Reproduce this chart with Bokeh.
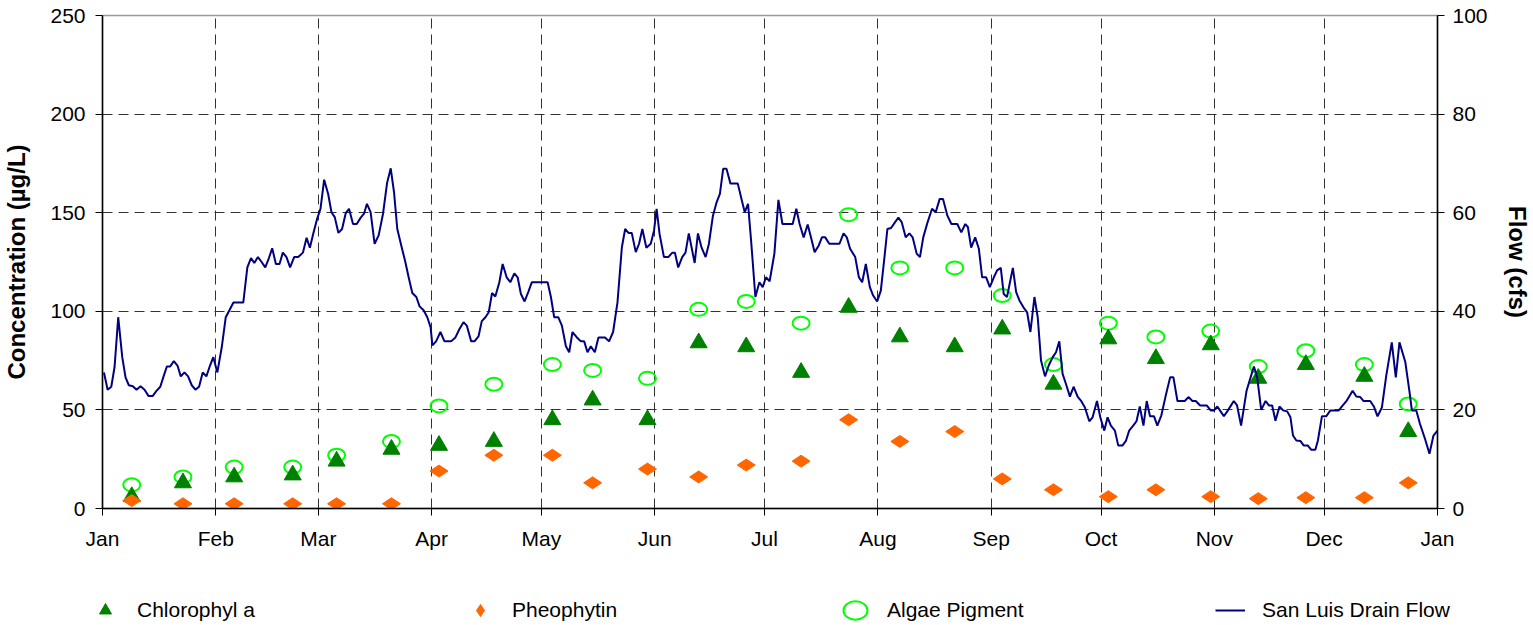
import math
from bokeh.plotting import figure
from bokeh.layouts import column
from bokeh.models import Range1d, LinearAxis, FixedTicker, Legend, LegendItem
from bokeh.embed import file_html
from bokeh.resources import INLINE

FONT = "Liberation Sans"

# ---------------- data ----------------
month_ticks = [0, 31, 59, 90, 120, 151, 181, 212, 243, 273, 304, 334, 365]
month_labels = ["Jan", "Feb", "Mar", "Apr", "May", "Jun", "Jul", "Aug",
                "Sep", "Oct", "Nov", "Dec", "Jan"]
conc_ticks = [0, 50, 100, 150, 200, 250]
flow_ticks = [0, 20, 40, 60, 80, 100]

sample_day = [8, 22, 36, 52, 64, 79, 92, 107, 123, 134, 149, 163, 176,
              191, 204, 218, 233, 246, 260, 275, 288, 303, 316, 329, 345, 357]
chlorophyll_a = [6, 13, 16, 17, 24, 30, 32, 34, 45, 55, 45, 84, 82,
                 69, 102, 87, 82, 91, 63, 86, 76, 83, 66, 73, 67, 39]
pheophytin = [4, 2.4, 2.4, 2.4, 2.4, 2.4, 19, 27, 27, 13, 20, 16, 22,
              24, 45, 34, 39, 15, 9.5, 6, 9.5, 6, 5, 5.5, 5.5, 13]
algae_pigment = [12, 16, 21, 21, 27, 34, 52, 63, 73, 70, 66, 101, 105,
                 94, 149, 122, 122, 108, 73, 94, 87, 90, 72, 80, 73, 53]

flow_day = [0.4, 1.4, 2.4, 3.3, 4.3, 5.4, 6.3, 7.2, 8.3, 9.3, 10.4, 11.5, 12.6, 13.7, 14.7,
            15.8, 16.7, 17.6, 18.5, 19.5, 20.5, 21.4, 22.4, 23.4, 24.4, 25.4, 26.4, 27.4, 28.4,
            29.4, 30.3, 31.4, 32.6, 33.7, 34.7, 35.8, 38.5, 39.6, 40.6, 41.5, 42.5, 43.5, 44.5,
            45.5, 46.4, 47.4, 48.4, 49.3, 50.3, 51.3, 52.4, 53.5, 54.8, 55.8, 56.7, 57.6, 58.7,
            59.6, 60.6, 61.7, 62.6, 63.5, 64.5, 65.5, 66.5, 67.4, 68.5, 69.5, 70.6, 71.5, 72.3,
            73.3, 74.4, 75.5, 76.7, 77.8, 78.8, 79.7, 80.6, 81.7, 82.8, 83.7, 84.7, 85.8, 86.7,
            87.8, 88.8, 89.7, 90.2, 91.2, 92.4, 93.5, 95.3, 96.5, 97.6, 98.7, 99.6, 100.8, 101.7,
            102.8, 103.7, 104.7, 105.6, 106.5, 107.4, 108.5, 109.4, 110.5, 111.5, 112.6, 113.5,
            114.4, 115.4, 116.4, 117.4, 121.7, 122.6, 123.5, 124.6, 125.6, 126.7, 127.6, 128.5,
            129.7, 130.8, 131.7, 132.6, 133.5, 134.6, 135.6, 137.4, 138.5, 139.6, 140.8, 142.0,
            142.9, 143.8, 144.7, 145.8, 146.7, 147.6, 148.7, 149.9, 150.8, 151.5, 152.3, 153.5,
            154.7, 155.8, 156.5, 157.4, 158.5, 159.4, 160.3, 161.9, 162.8, 163.8, 164.9, 165.8,
            166.9, 167.9, 168.8, 169.7, 170.6, 171.7, 173.7, 174.7, 175.6, 176.5, 177.4, 178.5,
            179.6, 180.5, 181.4, 182.4, 183.7, 184.8, 185.9, 188.7, 189.7, 190.6, 191.7, 192.8,
            193.7, 194.7, 195.8, 196.7, 197.6, 198.7, 201.5, 202.6, 203.5, 204.4, 205.8, 206.8,
            207.7, 208.7, 209.8, 210.7, 211.8, 212.8, 213.6, 214.6, 215.6, 216.7, 217.6, 218.5,
            219.6, 220.6, 221.5, 222.6, 223.5, 224.4, 225.6, 226.8, 227.8, 228.9, 229.8, 231.0,
            232.1, 233.7, 234.8, 235.9, 236.6, 237.5, 238.6, 239.6, 240.5, 241.6, 242.6, 243.7,
            244.6, 245.6, 246.4, 247.3, 248.9, 249.8, 250.7, 251.8, 252.8, 253.7, 254.8, 255.7,
            256.6, 257.7, 258.7, 259.8, 260.7, 261.6, 262.5, 263.4, 264.5, 265.5, 266.6, 267.5,
            268.6, 269.8, 270.7, 271.9, 272.8, 273.9, 274.8, 275.7, 276.8, 277.7, 278.9, 279.8,
            280.7, 281.8, 282.7, 283.6, 284.6, 285.5, 286.4, 287.5, 288.4, 289.5, 290.7, 291.9,
            292.8, 293.9, 295.9, 296.9, 298.0, 298.9, 300.1, 301.9, 303.0, 303.9, 304.8, 305.7,
            306.6, 307.7, 309.3, 310.2, 311.3, 312.8, 313.9, 314.8, 315.7, 316.8, 318.0, 318.9,
            319.8, 320.7, 321.8, 322.8, 323.9, 324.8, 325.5, 326.4, 327.5, 328.4, 329.5, 330.5,
            331.6, 332.3, 333.4, 334.6, 335.7, 338.0, 339.1, 340.2, 341.8, 342.8, 343.9, 344.8,
            346.6, 347.6, 348.6, 349.8, 351.0, 352.5, 353.6, 354.6, 356.2, 357.3, 358.0, 359.2,
            360.2, 361.6, 362.8, 363.9, 365.0]
flow_cfs = [27.6, 24.1, 24.7, 28.7, 38.8, 30.7, 26.6, 25.0, 24.8, 24.1, 24.8, 24.1, 22.8, 22.8, 23.8,
            24.7, 26.8, 28.8, 28.8, 29.9, 29.0, 26.8, 27.6, 26.8, 25.0, 24.1, 24.7, 27.6, 26.8,
            29.0, 30.7, 27.6, 32.7, 38.8, 40.2, 41.8, 41.8, 48.9, 50.8, 49.8, 51.0, 50.0, 48.9,
            50.8, 52.8, 49.6, 49.6, 51.9, 51.0, 48.9, 51.0, 51.0, 51.9, 54.9, 52.9, 55.7, 58.8,
            60.8, 66.7, 63.8, 60.1, 59.1, 55.9, 56.7, 59.9, 60.8, 57.7, 57.7, 59.0, 59.8, 61.8,
            60.1, 53.7, 55.4, 59.8, 66.0, 69.0, 64.2, 56.7, 53.3, 50.0, 46.9, 43.7, 42.9, 41.0,
            40.2, 38.8, 36.8, 33.1, 33.9, 35.8, 33.9, 33.9, 34.7, 36.4, 37.8, 37.1, 33.9, 33.9,
            34.9, 38.0, 38.8, 39.8, 43.7, 43.0, 45.9, 49.6, 46.9, 45.9, 47.7, 46.9,
            43.5, 42.0, 43.9, 45.9, 45.9, 42.9, 38.8, 38.8, 37.1, 32.9, 31.7, 35.8,
            34.7, 33.9, 33.9, 31.7, 32.9, 31.7, 34.7, 34.7, 33.9, 35.8, 41.8, 53.0,
            56.7, 55.9, 55.9, 52.0, 53.7, 56.7, 52.9, 53.7, 56.4, 60.8, 55.7, 51.0,
            51.0, 51.9, 51.9, 48.9, 51.0, 51.9, 55.8, 49.8, 55.8, 52.9, 51.0, 53.7,
            59.4, 62.1, 63.8, 68.9, 68.9, 65.9, 65.9, 62.8, 60.1, 61.8, 53.7, 42.9,
            45.9, 44.9, 46.9, 46.1, 51.7, 62.6, 57.7, 57.7, 60.8, 57.7, 55.0, 57.6,
            55.0, 52.0, 53.3, 55.0, 55.0, 53.7, 53.7, 55.8, 55.0, 52.7, 51.0, 46.9,
            45.9, 49.6, 44.9, 43.2, 42.0, 44.2, 49.6, 56.7, 56.9, 58.1, 59.0, 58.1,
            55.0, 55.8, 55.0, 51.7, 51.0, 55.0, 58.1, 60.8, 60.1, 62.8, 62.8, 59.4,
            57.7, 57.7, 56.0, 57.7, 57.1, 52.9, 55.0, 52.7, 46.9, 46.9, 44.9, 46.9,
            48.3, 48.8, 43.5, 42.9, 48.8, 43.9, 42.2, 40.8, 39.8, 35.8, 42.9, 38.8,
            30.0, 26.8, 29.0, 30.7, 31.7, 33.9, 27.3, 25.3, 22.7, 24.7, 22.7, 21.9,
            20.5, 17.7, 18.5, 21.8, 18.5, 15.8, 18.5, 16.8, 15.8, 12.8, 12.8, 13.7,
            15.8, 16.8, 17.7, 20.7, 16.8, 21.8, 18.7, 18.7, 16.8, 18.9, 22.9, 26.6,
            26.6, 21.8, 21.8, 22.6, 21.8, 21.8, 20.9, 20.9, 19.9, 19.9, 20.7, 19.7,
            18.7, 19.9, 21.8, 20.9, 16.8, 23.9, 26.6, 28.8, 26.6, 20.0, 21.8, 20.9,
            20.9, 17.8, 20.7, 19.9, 19.7, 18.5, 14.8, 13.8, 13.7, 12.8, 12.8, 11.9,
            11.9, 13.8, 18.7, 18.7, 19.9, 19.9, 20.9, 21.9, 23.9, 22.7, 22.6, 21.8,
            21.8, 20.7, 18.7, 20.5, 27.0, 33.7, 26.6, 33.7, 29.7, 23.9, 19.9, 19.9,
            17.2, 14.1, 11.1, 14.8, 15.8]

legend_labels = ["Chlorophyl a", "Pheophytin", "Algae Pigment", "San Luis Drain Flow"]

# styles
ALG = dict(fill_color=None, line_color="#00FF00", line_width=2)
CHL = dict(marker="triangle", size=17, fill_color="#008000", line_color="#008000")
PHE = dict(marker="diamond", angle=math.pi / 2, size=18,
           fill_color="#FF6600", line_color="#FF6600")
FLO = dict(line_color="#000080", line_width=2)


def draw_series(fig, flow_range=None):
    kw = {} if flow_range is None else {"y_range_name": flow_range}
    r_alg = fig.ellipse(x=sample_day, y=algae_pigment, width=17, height=13,
                        width_units="screen", height_units="screen", **ALG)
    r_chl = fig.scatter(x=sample_day, y=chlorophyll_a, **CHL)
    r_phe = fig.scatter(x=sample_day, y=pheophytin, **PHE)
    r_flo = fig.line(x=flow_day, y=flow_cfs, **kw, **FLO)
    return r_chl, r_phe, r_alg, r_flo


# ---------------- main figure ----------------
p = figure(width=1533, height=560,
           x_range=Range1d(0, 365), y_range=Range1d(0, 250),
           output_backend="svg", toolbar_location=None,
           min_border_left=102, min_border_right=92,
           min_border_top=15, min_border_bottom=52)
p.extra_y_ranges = {"flow": Range1d(0, 100)}
p.background_fill_color = "white"
p.border_fill_color = "white"
p.outline_line_color = "#999999"
p.outline_line_width = 1.5

p.xgrid.ticker = FixedTicker(ticks=month_ticks)
p.ygrid.ticker = FixedTicker(ticks=conc_ticks)
for g in (p.xgrid, p.ygrid):
    g.grid_line_color = "#333333"
    g.grid_line_dash = "10 6"
    g.grid_line_width = 1

xa = p.xaxis[0]
xa.ticker = FixedTicker(ticks=month_ticks)
xa.major_label_overrides = {t: l for t, l in zip(month_ticks, month_labels)}

ya = p.yaxis[0]
ya.ticker = FixedTicker(ticks=conc_ticks)
ya.axis_label = "Concentration (µg/L)"
ya.axis_label_standoff = 17

ra = LinearAxis(y_range_name="flow", ticker=FixedTicker(ticks=flow_ticks),
                axis_label="Flow (cfs)", axis_label_standoff=13)
p.add_layout(ra, "right")

for ax in (xa, ya, ra):
    ax.axis_line_color = "black"
    ax.axis_line_width = 1.5
    ax.major_tick_line_color = "black"
    ax.major_tick_in = 0
    ax.major_tick_out = 7
    ax.minor_tick_line_color = None
    ax.major_label_text_font = FONT
    ax.major_label_text_font_size = "21px"
    ax.major_label_text_color = "black"
    ax.axis_label_text_font = FONT
    ax.axis_label_text_font_size = "24px"
    ax.axis_label_text_font_style = "bold"
    ax.axis_label_text_color = "black"
xa.major_label_standoff = 11
ya.major_label_standoff = 10
ra.major_label_standoff = 8

draw_series(p, flow_range="flow")

# ---------------- legend strip ----------------
# the same series are drawn here outside the visible ranges, only to feed the legend
q = figure(width=1533, height=65, x_range=Range1d(-20, -10), y_range=Range1d(-20, -10),
           x_axis_type=None, y_axis_type=None,
           output_backend="svg", toolbar_location=None,
           min_border_left=0, min_border_right=0, min_border_top=0, min_border_bottom=0)
q.grid.visible = False
q.outline_line_color = None
q.background_fill_color = "white"
q.border_fill_color = "white"

legend_x = 90
try:
    q.frame_align = False
except Exception:
    legend_x = -12

l_chl, l_phe, l_alg, l_flo = draw_series(q)

legend = Legend(items=[LegendItem(label=legend_labels[0], renderers=[l_chl]),
                       LegendItem(label=legend_labels[1], renderers=[l_phe]),
                       LegendItem(label=legend_labels[2], renderers=[l_alg]),
                       LegendItem(label=legend_labels[3], renderers=[l_flo])],
                orientation="horizontal", location=(legend_x, 0),
                glyph_width=30, glyph_height=30, label_standoff=17,
                label_width=306, spacing=22, padding=0, margin=0,
                border_line_color=None, background_fill_alpha=0,
                label_text_font=FONT, label_text_font_size="21px",
                label_text_color="black")
q.add_layout(legend)

layout = column(p, q, spacing=0)
open("out.html", "w").write(file_html(layout, INLINE))
